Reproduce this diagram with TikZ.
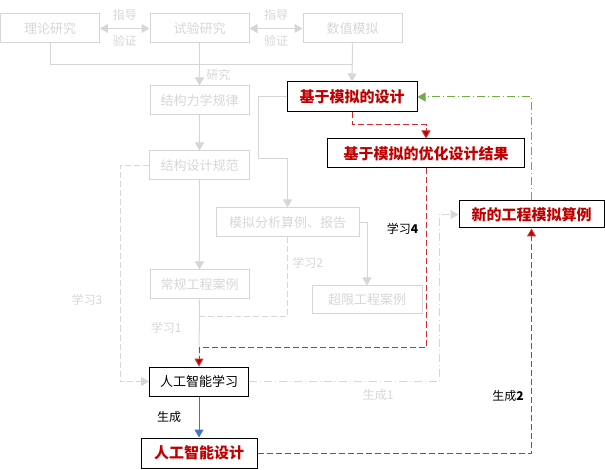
\documentclass[tikz,border=0pt]{standalone}
\usepackage{fontspec}
\setmainfont{Noto Sans CJK SC}
\usetikzlibrary{arrows.meta}
\definecolor{ltgray}{RGB}{214,214,214}
\definecolor{dkred}{RGB}{192,0,0}
\definecolor{lnred}{RGB}{205,45,45}
\definecolor{ggreen}{RGB}{112,173,71}
\definecolor{bblue}{RGB}{68,114,196}

\begin{document}
\begin{tikzpicture}[x=1pt,y=-1pt,line width=1pt,
  oldbox/.style={draw=ltgray,text=ltgray,minimum height=29pt,inner sep=0pt,font=\fontsize{13}{15}\selectfont},
  newbox/.style={draw=black,minimum height=29pt,inner sep=0pt,font=\fontsize{13}{15}\selectfont},
  keybox/.style={newbox,text=dkred,font=\bfseries\fontsize{15}{17}\selectfont},
  oldline/.style={draw=ltgray},
  oldarrow/.style={draw=ltgray,-{Triangle[width=9pt,length=8pt]}},
  olddash/.style={draw=ltgray,dash pattern=on 6pt off 3pt},
  reddash/.style={draw=lnred,dash pattern=on 6pt off 3pt,-{Triangle[width=9pt,length=8pt,fill=dkred]}},
  lbl/.style={font=\fontsize{12}{14}\selectfont},
  oldlbl/.style={lbl,text=ltgray}]
  \useasboundingbox (0,0) rectangle (605,470);

  % top row
  \node[oldbox,minimum width=99pt] (lilun) at (50,28.5) {理论研究};
  \node[oldbox,minimum width=99pt] (shiyan) at (199.5,28.5) {试验研究};
  \node[oldbox,minimum width=99pt] (shuzhi) at (352.5,28.5) {数值模拟};
  \coordinate (jct) at (352.5,65);

  % old knowledge
  \node[oldbox,minimum width=99pt] (lixue) at (199.5,100.5) {结构力学规律};
  \node[oldbox,minimum width=100pt] (guifan) at (199.5,165.5) {结构设计规范};
  \node[oldbox,minimum width=143pt] (fenxi) at (287.5,222.5) {模拟分析算例、报告};
  \node[oldbox,minimum width=99pt] (changgui) at (199.5,284.5) {常规工程案例};
  \node[oldbox,minimum width=110pt,minimum height=28pt] (chaoxian) at (367,300) {超限工程案例};
  \coordinate (k1) at (258,159);
  \coordinate (k2) at (199.5,317);
  \coordinate (k3) at (120,165.5);

  % new design
  \node[keybox,minimum width=130pt,minimum height=30pt] (jiyu) at (352,97) {基于模拟的设计};
  \node[keybox,minimum width=197pt] (youhua) at (426,153.5) {基于模拟的优化设计结果};
  \node[keybox,minimum width=145pt,minimum height=27pt] (xinde) at (531.5,214.5) {新的工程模拟算例};
  \node[newbox,minimum width=99pt] (xuexi) at (199,381.5) {人工智能学习};
  \node[keybox,minimum width=116pt,minimum height=30pt] (sheji) at (199,453) {人工智能设计};
  \coordinate (k4) at (199,347);
  \coordinate (k5) at (426,125);
  \coordinate (k6) at (439,381.5);

  \draw[draw=ltgray,{Triangle[width=9pt,length=8pt]}-{Triangle[width=9pt,length=8pt]}] (lilun) -- (shiyan)
    node[oldlbl,midway,yshift=13.5pt]{指导} node[oldlbl,midway,yshift=-12pt]{验证};
  \draw[draw=ltgray,{Triangle[width=9pt,length=8pt]}-{Triangle[width=9pt,length=8pt]}] (shiyan) -- (shuzhi)
    node[oldlbl,midway,yshift=13.5pt]{指导} node[oldlbl,midway,yshift=-12pt]{验证};
  \draw[oldline] (lilun.south) |- (jct);
  \draw[oldarrow] (shiyan.south) -- (lixue.north) node[oldlbl,pos=0.74,right=3pt]{研究};
  \draw[oldarrow] (shuzhi.south) -- (jiyu.north);
  \draw[oldarrow] (lixue) -- (guifan);
  \draw[oldarrow] (jiyu.west) -| (k1) -| (fenxi.north);
  \draw[oldarrow] (fenxi.east) -| (chaoxian.north);
  \draw[oldarrow] (guifan) -- (changgui);
  \draw[olddash] (fenxi.south) |- node[oldlbl,pos=0.16,right=1pt]{学习2} (k2);
  \draw[oldline] (changgui) -- node[oldlbl,pos=0.43,left=14pt]{学习1} (xuexi);
  \draw[olddash,-{Triangle[width=9pt,length=8pt]}] (guifan.west) -- (k3)
    |- node[oldlbl,pos=0.31,left=14pt]{学习3} (xuexi.west);

  % learning and generation
  \draw[reddash] (jiyu.south) |- (k5) -- (youhua.north);
  \draw[reddash] (youhua.south) |- node[lbl,pos=0.17,left=4pt]{学习\textbf{4}} (k4) -- (xuexi.north);
  \draw[draw=ltgray,dash pattern=on 8pt off 3pt on 1pt off 3pt,-{Triangle[width=9pt,length=8pt]}]
    (xuexi.east) -- node[oldlbl,pos=0.68,below=4pt]{生成1} (k6) |- (xinde.west);
  \draw[draw=ggreen,dash pattern=on 8pt off 3pt on 1pt off 3pt,-{Triangle[width=9pt,length=8pt]}]
    (xinde.north) |- (jiyu.east);
  \draw[draw=bblue,-{Triangle[width=9pt,length=8pt]}] (xuexi) -- (sheji)
    node[lbl,midway,left=14pt]{生成};
  \draw[reddash] (sheji.east) -| node[lbl,pos=0.627,left=4pt]{生成\textbf{2}} (xinde.south);
\end{tikzpicture}
\end{document}
